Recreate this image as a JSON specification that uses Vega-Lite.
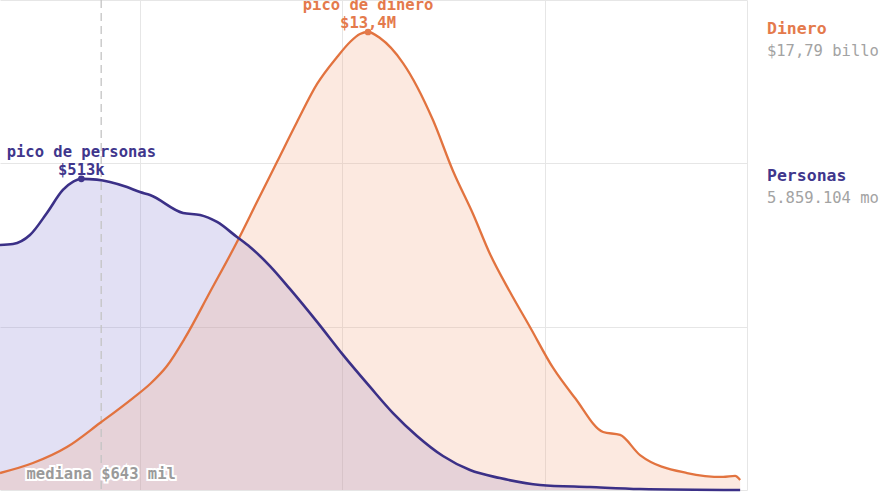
{
  "$schema": "https://vega.github.io/schema/vega-lite/v6.json",
  "width": 747,
  "height": 490,
  "autosize": {"type": "none"},
  "padding": {"left": 0, "top": 0, "right": 133, "bottom": 5},
  "background": "white",
  "config": {
    "view": {"stroke": null},
    "font": "DejaVu Sans Mono",
    "axis": {"labels": false, "ticks": false, "domain": false, "title": null, "gridColor": "#e6e6e6", "gridWidth": 1}
  },
  "datasets": {
    "curvas": [
      {"serie": "Personas", "ingreso": 203300, "valor": 1.5},
      {"serie": "Personas", "ingreso": 235500, "valor": 1.506},
      {"serie": "Personas", "ingreso": 285800, "valor": 1.561},
      {"serie": "Personas", "ingreso": 346700, "valor": 1.696},
      {"serie": "Personas", "ingreso": 415900, "valor": 1.837},
      {"serie": "Personas", "ingreso": 470000, "valor": 1.89},
      {"serie": "Personas", "ingreso": 513000, "valor": 1.905},
      {"serie": "Personas", "ingreso": 612000, "valor": 1.9},
      {"serie": "Personas", "ingreso": 710000, "valor": 1.886},
      {"serie": "Personas", "ingreso": 863000, "valor": 1.855},
      {"serie": "Personas", "ingreso": 1000000, "valor": 1.824},
      {"serie": "Personas", "ingreso": 1121000, "valor": 1.806},
      {"serie": "Personas", "ingreso": 1632000, "valor": 1.696},
      {"serie": "Personas", "ingreso": 1982000, "valor": 1.684},
      {"serie": "Personas", "ingreso": 2404000, "valor": 1.641},
      {"serie": "Personas", "ingreso": 3015000, "valor": 1.549},
      {"serie": "Personas", "ingreso": 3497000, "valor": 1.488},
      {"serie": "Personas", "ingreso": 4391000, "valor": 1.371},
      {"serie": "Personas", "ingreso": 5508000, "valor": 1.231},
      {"serie": "Personas", "ingreso": 7503000, "valor": 1.029},
      {"serie": "Personas", "ingreso": 10080000, "valor": 0.827},
      {"serie": "Personas", "ingreso": 13710000, "valor": 0.631},
      {"serie": "Personas", "ingreso": 17800000, "valor": 0.471},
      {"serie": "Personas", "ingreso": 23390000, "valor": 0.331},
      {"serie": "Personas", "ingreso": 31440000, "valor": 0.208},
      {"serie": "Personas", "ingreso": 42760000, "valor": 0.122},
      {"serie": "Personas", "ingreso": 60120000, "valor": 0.073},
      {"serie": "Personas", "ingreso": 94850000, "valor": 0.031},
      {"serie": "Personas", "ingreso": 167500000, "valor": 0.018},
      {"serie": "Personas", "ingreso": 296000000, "valor": 0.006},
      {"serie": "Personas", "ingreso": 925000000, "valor": 0.0},
      {"serie": "Dinero", "ingreso": 203300, "valor": 0.104},
      {"serie": "Dinero", "ingreso": 295800, "valor": 0.165},
      {"serie": "Dinero", "ingreso": 435500, "valor": 0.263},
      {"serie": "Dinero", "ingreso": 634000, "valor": 0.41},
      {"serie": "Dinero", "ingreso": 923000, "valor": 0.563},
      {"serie": "Dinero", "ingreso": 1121000, "valor": 0.649},
      {"serie": "Dinero", "ingreso": 1359000, "valor": 0.759},
      {"serie": "Dinero", "ingreso": 1669000, "valor": 0.931},
      {"serie": "Dinero", "ingreso": 2218000, "valor": 1.212},
      {"serie": "Dinero", "ingreso": 3015000, "valor": 1.518},
      {"serie": "Dinero", "ingreso": 3784000, "valor": 1.763},
      {"serie": "Dinero", "ingreso": 4753000, "valor": 2.008},
      {"serie": "Dinero", "ingreso": 5970000, "valor": 2.253},
      {"serie": "Dinero", "ingreso": 7503000, "valor": 2.486},
      {"serie": "Dinero", "ingreso": 9420000, "valor": 2.651},
      {"serie": "Dinero", "ingreso": 10920000, "valor": 2.743},
      {"serie": "Dinero", "ingreso": 12220000, "valor": 2.792},
      {"serie": "Dinero", "ingreso": 13400000, "valor": 2.804},
      {"serie": "Dinero", "ingreso": 15350000, "valor": 2.767},
      {"serie": "Dinero", "ingreso": 19950000, "valor": 2.614},
      {"serie": "Dinero", "ingreso": 28050000, "valor": 2.265},
      {"serie": "Dinero", "ingreso": 35240000, "valor": 1.953},
      {"serie": "Dinero", "ingreso": 44260000, "valor": 1.69},
      {"serie": "Dinero", "ingreso": 53690000, "valor": 1.445},
      {"serie": "Dinero", "ingreso": 67430000, "valor": 1.212},
      {"serie": "Dinero", "ingreso": 84600000, "valor": 0.998},
      {"serie": "Dinero", "ingreso": 110100000, "valor": 0.747},
      {"serie": "Dinero", "ingreso": 141300000, "valor": 0.563},
      {"serie": "Dinero", "ingreso": 194500000, "valor": 0.355},
      {"serie": "Dinero", "ingreso": 236000000, "valor": 0.337},
      {"serie": "Dinero", "ingreso": 296000000, "valor": 0.214},
      {"serie": "Dinero", "ingreso": 505800000, "valor": 0.104},
      {"serie": "Dinero", "ingreso": 762000000, "valor": 0.08},
      {"serie": "Dinero", "ingreso": 873000000, "valor": 0.086},
      {"serie": "Dinero", "ingreso": 925000000, "valor": 0.061}
    ],
    "picos": [
      {"serie": "Personas", "ingreso": 513000, "valor": 1.905, "titulo": "pico de personas", "monto": "$513k"},
      {"serie": "Dinero", "ingreso": 13400000, "valor": 2.804, "titulo": "pico de dinero", "monto": "$13,4M"}
    ],
    "leyenda": [
      {"serie": "Dinero", "ingreso": 1255000000, "valor": 2.792, "sub": 2.657, "titulo": "Dinero", "detalle": "$17,79 billones"},
      {"serie": "Personas", "ingreso": 1255000000, "valor": 1.892, "sub": 1.757, "titulo": "Personas", "detalle": "5.859.104 montos"}
    ],
    "mediana": [
      {"ingreso": 643000, "valor": 0.067, "texto": "mediana $643 mil"}
    ]
  },
  "encoding": {
    "x": {
      "field": "ingreso",
      "type": "quantitative",
      "scale": {"type": "log", "domain": [203300, 1000000000]},
      "axis": {"values": [1000000, 10000000, 100000000, 1000000000], "grid": true}
    },
    "y": {
      "field": "valor",
      "type": "quantitative",
      "scale": {"domain": [0, 3]},
      "axis": {"values": [0, 1, 2, 3], "grid": true}
    }
  },
  "layer": [
    {
      "data": {"name": "curvas"},
      "transform": [{"filter": "datum.serie === 'Personas'"}],
      "mark": {"type": "area", "interpolate": "monotone", "color": "#8f88d5", "fillOpacity": 0.26}
    },
    {
      "data": {"name": "curvas"},
      "transform": [{"filter": "datum.serie === 'Dinero'"}],
      "mark": {"type": "area", "interpolate": "monotone", "color": "#f3aa88", "fillOpacity": 0.26}
    },
    {
      "data": {"name": "mediana"},
      "mark": {"type": "rule", "color": "#c4c4c4", "strokeWidth": 1.3, "strokeDash": [8, 5]},
      "encoding": {"y": null}
    },
    {
      "data": {"name": "curvas"},
      "transform": [{"filter": "datum.serie === 'Dinero'"}],
      "mark": {"type": "line", "interpolate": "monotone", "color": "#e2733f", "strokeWidth": 2.3}
    },
    {
      "data": {"name": "curvas"},
      "transform": [{"filter": "datum.serie === 'Personas'"}],
      "mark": {"type": "line", "interpolate": "monotone", "color": "#3b3087", "strokeWidth": 2.6}
    },
    {
      "data": {"name": "picos"},
      "mark": {"type": "point", "filled": true, "opacity": 1, "size": 45},
      "encoding": {
        "color": {"field": "serie", "type": "nominal", "scale": {"domain": ["Dinero", "Personas"], "range": ["#e47a4c", "#40368c"]}, "legend": null}
      }
    },
    {
      "data": {"name": "picos"},
      "mark": {"type": "text", "baseline": "alphabetic", "align": "center", "dy": -4, "fontSize": 15.5, "fontWeight": "bold"},
      "encoding": {
        "text": {"field": "monto"},
        "color": {"field": "serie", "type": "nominal", "legend": null}
      }
    },
    {
      "data": {"name": "picos"},
      "mark": {"type": "text", "baseline": "alphabetic", "align": "center", "dy": -22, "fontSize": 15.5, "fontWeight": "bold"},
      "encoding": {
        "text": {"field": "titulo"},
        "color": {"field": "serie", "type": "nominal", "legend": null}
      }
    },
    {
      "data": {"name": "mediana"},
      "mark": {"type": "text", "baseline": "alphabetic", "align": "center", "fontSize": 15.5, "fontWeight": "bold", "color": "white", "stroke": "white", "strokeWidth": 4},
      "encoding": {"text": {"field": "texto"}}
    },
    {
      "data": {"name": "mediana"},
      "mark": {"type": "text", "baseline": "alphabetic", "align": "center", "fontSize": 15.5, "fontWeight": "bold", "color": "#9a9a9a"},
      "encoding": {"text": {"field": "texto"}}
    },
    {
      "data": {"name": "leyenda"},
      "mark": {"type": "text", "baseline": "alphabetic", "align": "left", "fontSize": 16.5, "fontWeight": "bold"},
      "encoding": {
        "text": {"field": "titulo"},
        "color": {"field": "serie", "type": "nominal", "legend": null}
      }
    },
    {
      "data": {"name": "leyenda"},
      "mark": {"type": "text", "baseline": "alphabetic", "align": "left", "fontSize": 15.5, "color": "#a3a3a3"},
      "encoding": {
        "text": {"field": "detalle"},
        "y": {"field": "sub", "type": "quantitative"}
      }
    }
  ]
}
